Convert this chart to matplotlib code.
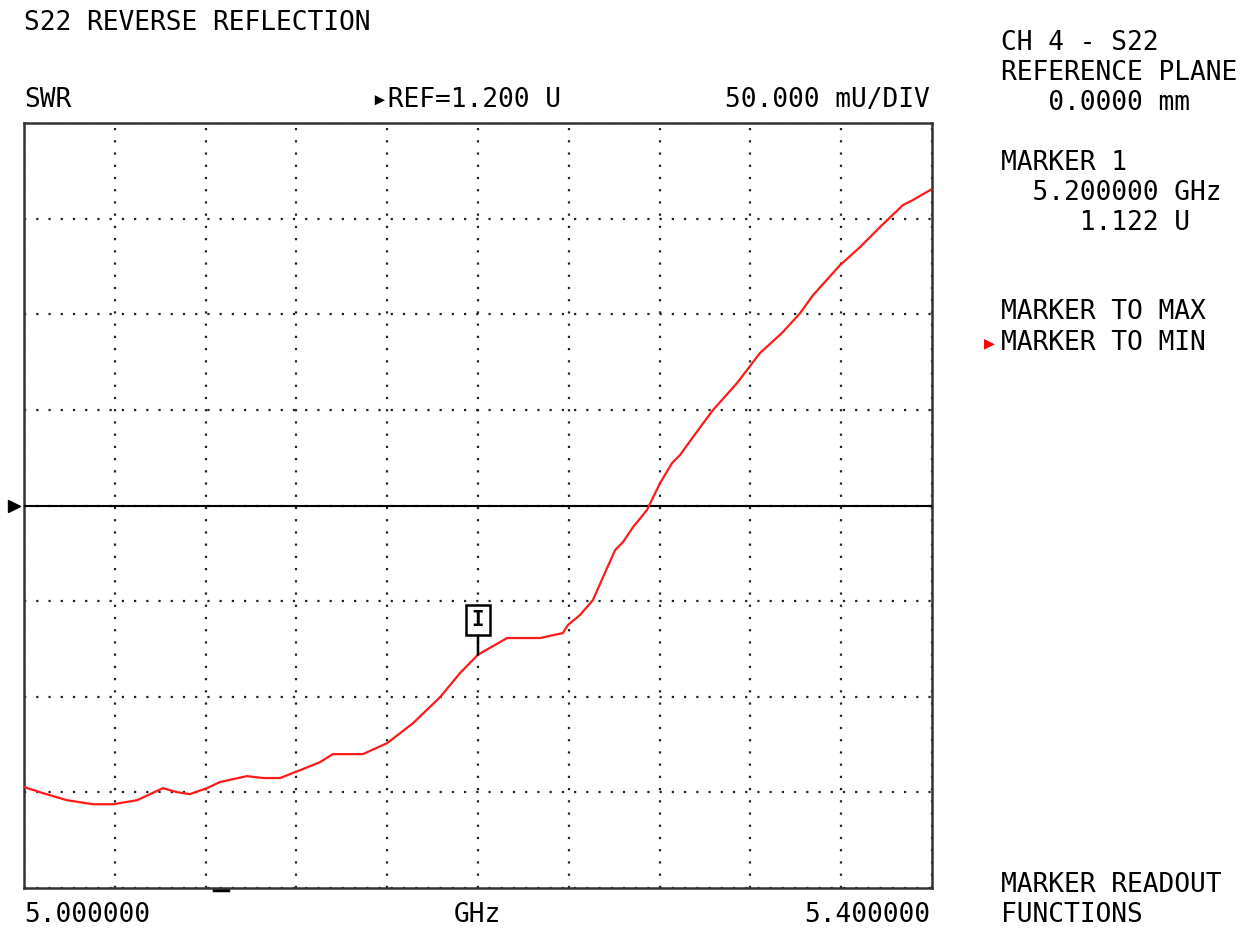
import matplotlib
matplotlib.use("Agg")
import matplotlib.pyplot as plt
import matplotlib.transforms as mtransforms

# trace (GHz, SWR units)
freq = [5.0000, 5.0084, 5.0189, 5.0304, 5.0392, 5.0498, 5.0612, 5.0674, 5.0731,
        5.0806, 5.0863, 5.0982, 5.1053, 5.1128, 5.1216, 5.1304, 5.1361, 5.1493,
        5.1599, 5.1714, 5.1833, 5.1921, 5.2000, 5.2128, 5.2273, 5.2374, 5.2396,
        5.2449, 5.2506, 5.2551, 5.2604, 5.2639, 5.2683, 5.2744, 5.2802, 5.2855,
        5.2890, 5.2947, 5.3035, 5.3141, 5.3242, 5.3339, 5.3419, 5.3476, 5.3595,
        5.3683, 5.3771, 5.3872, 5.3916, 5.4000]
swr = [1.0528, 1.0496, 1.0459, 1.0438, 1.0438, 1.0459, 1.0522, 1.0501, 1.0491,
       1.0522, 1.0554, 1.0585, 1.0575, 1.0575, 1.0616, 1.0658, 1.0700, 1.0700,
       1.0757, 1.0862, 1.0998, 1.1124, 1.1220, 1.1307, 1.1307, 1.1333, 1.1375,
       1.1427, 1.1505, 1.1626, 1.1767, 1.1809, 1.1887, 1.1976, 1.2117, 1.2222,
       1.2264, 1.2358, 1.2499, 1.2640, 1.2797, 1.2902, 1.3006, 1.3100, 1.3257,
       1.3351, 1.3456, 1.3571, 1.3597, 1.3655]

start_f, stop_f = 5.0, 5.4
ref_val = 1.2
per_div = 0.05
marker_f, marker_v = 5.2, 1.122
stim_mark = 5.0868

right_panel = [("CH 4 - S22", 43), ("REFERENCE PLANE", 73), ("   0.0000 mm", 103),
               ("MARKER 1", 163), ("  5.200000 GHz", 193), ("     1.122 U", 223),
               ("MARKER TO MAX", 312), ("MARKER TO MIN", 343),
               ("MARKER READOUT", 885), ("FUNCTIONS", 915)]

W, H = 1256, 932
plt.rcParams['font.family'] = ['DejaVu Sans Mono']
FS = 18.9

fig = plt.figure(figsize=(W / 100, H / 100), dpi=100)
ax = fig.add_axes([24 / W, 1 - 888 / H, (932 - 24) / W, (888 - 123) / H])

def px(x, y):
    return x / W, 1 - y / H

ax.set_xlim(start_f, stop_f)
ax.set_ylim(ref_val - 4 * per_div, ref_val + 4 * per_div)
ax.set_xticks([start_f + i * (stop_f - start_f) / 10 for i in range(11)])
ax.set_yticks([ref_val + (i - 4) * per_div for i in range(9)])
ax.tick_params(length=0, labelbottom=False, labelleft=False)
ax.grid(True, color='#222222', linestyle=(0, (1, 4.5)), linewidth=1.6)
for s in ax.spines.values():
    s.set_linewidth(1.8)
    s.set_color('#333333')

# reference line
ax.axhline(ref_val, color='black', lw=1.5, zorder=3)
trans = mtransforms.blended_transform_factory(ax.transAxes, ax.transData)
ax.plot([-0.011], [ref_val], marker='>', color='black', markersize=8,
        transform=trans, clip_on=False)
trans2 = mtransforms.blended_transform_factory(ax.transData, ax.transAxes)
ax.plot([stim_mark - 0.003, stim_mark + 0.003], [-0.003, -0.003], color='black',
        lw=2.5, transform=trans2, clip_on=False)

ax.plot(freq, swr, color='#ff1a1a', lw=1.6, zorder=4)

# marker 1
ax.annotate("I", xy=(marker_f, marker_v), xytext=(marker_f, marker_v + 0.018),
            ha='center', va='center', fontsize=15, fontweight='bold',
            bbox=dict(boxstyle='square,pad=0.25', fc='white', ec='black', lw=1.8),
            arrowprops=dict(arrowstyle='-', color='black', lw=1.8, shrinkA=0, shrinkB=0),
            zorder=5)

fig.text(*px(24, 23), "S22 REVERSE REFLECTION", fontsize=FS, va='center')
fig.text(*px(24, 100), "SWR", fontsize=FS, va='center')
fig.text(*px(372, 100), "\u25b8REF=1.200 U", fontsize=FS, va='center')
fig.text(*px(930, 100), "50.000 mU/DIV", fontsize=FS, va='center', ha='right')
fig.text(*px(24, 915), "5.000000", fontsize=FS, va='center')
fig.text(*px(477, 915), "GHz", fontsize=FS, va='center', ha='center')
fig.text(*px(930, 915), "5.400000", fontsize=FS, va='center', ha='right')

for txt, y in right_panel:
    fig.text(*px(1001, y), txt, fontsize=FS, va='center')
fig.text(*px(984, 343), "\u25b6", fontsize=13, va='center', color='#ff0000')

fig.savefig("out.png", dpi=100)
